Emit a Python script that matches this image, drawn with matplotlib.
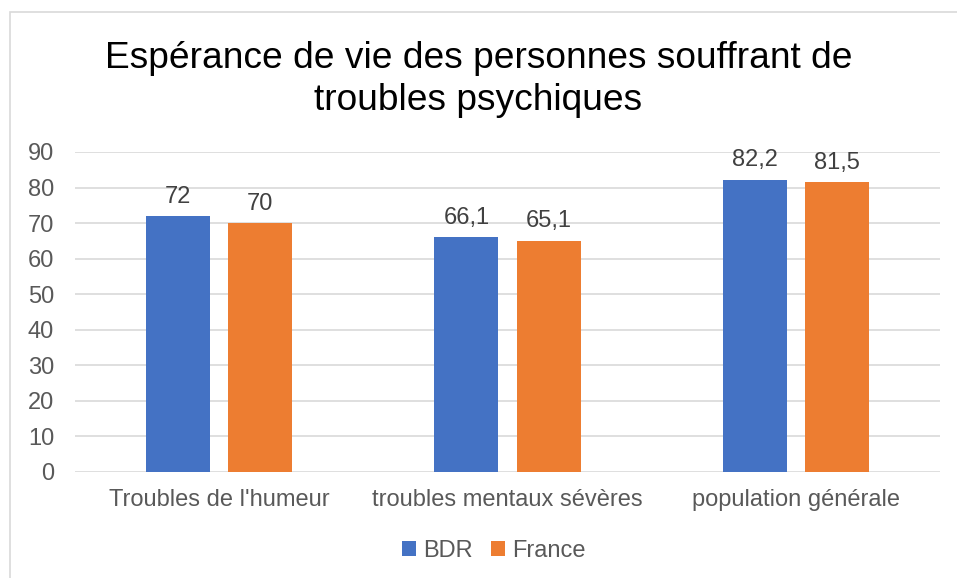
import numpy as np
import matplotlib.pyplot as plt
from matplotlib.patches import Rectangle

plt.rcParams['font.family'] = ['Liberation Sans', 'DejaVu Sans']

# ----- Data -----
categories = ["Troubles de l'humeur", "troubles mentaux sévères", "population générale"]
bdr = [72, 66.1, 82.2]
france = [70, 65.1, 81.5]
bdr_labels = ["72", "66,1", "82,2"]
france_labels = ["70", "65,1", "81,5"]

blue = "#4472C4"
orange = "#ED7D31"
grey = "#595959"

fig = plt.figure(figsize=(9.57, 5.78), dpi=100)
ax = fig.add_axes([75 / 957, 1 - 472 / 578, 865 / 957, 320 / 578])

x = np.arange(len(categories))
w = 0.222
gap = 0.0625
b1 = ax.bar(x - (w + gap) / 2, bdr, w, color=blue, zorder=3)
b2 = ax.bar(x + (w + gap) / 2, france, w, color=orange, zorder=3)

for bars, labels in ((b1, bdr_labels), (b2, france_labels)):
    for rect, lab in zip(bars, labels):
        ax.annotate(lab, (rect.get_x() + rect.get_width() / 2, rect.get_height()),
                    xytext=(0, 6), textcoords="offset points",
                    ha="center", va="bottom", fontsize=17, color="#404040")

ax.set_xlim(-0.5, 2.5)
ax.set_ylim(0, 90)
ax.set_yticks(range(0, 91, 10))
ax.set_xticks(x)
ax.set_xticklabels(categories)
ax.tick_params(axis="both", length=0, labelsize=17, labelcolor=grey)
ax.tick_params(axis="x", pad=12)
ax.tick_params(axis="y", pad=15)
ax.grid(axis="y", color="#D9D9D9", linewidth=1.2, zorder=0)
for s in ax.spines.values():
    s.set_visible(False)

fig.text(0.5, 1 - 58 / 578, "Espérance de vie des personnes souffrant de", ha="center", va="center",
         fontsize=26.7, color="#000000")
fig.text(0.5, 1 - 100 / 578, "troubles psychiques", ha="center", va="center",
         fontsize=26.7, color="#000000")

# ----- Legend -----
fig.legend([b1, b2], ["BDR", "France"], loc="center", bbox_to_anchor=(0.516, 1 - 551 / 578),
           ncol=2, frameon=False, fontsize=17, labelcolor=grey,
           handlelength=0.6, handleheight=0.6, handletextpad=0.3, columnspacing=0.8)

# chart border
fig.patches.append(Rectangle((10 / 957, -0.1), 2, 1 - 12 / 578 + 0.1, transform=fig.transFigure,
                             fill=False, edgecolor="#D9D9D9", linewidth=1.2))

plt.savefig("out.png", dpi=100)
